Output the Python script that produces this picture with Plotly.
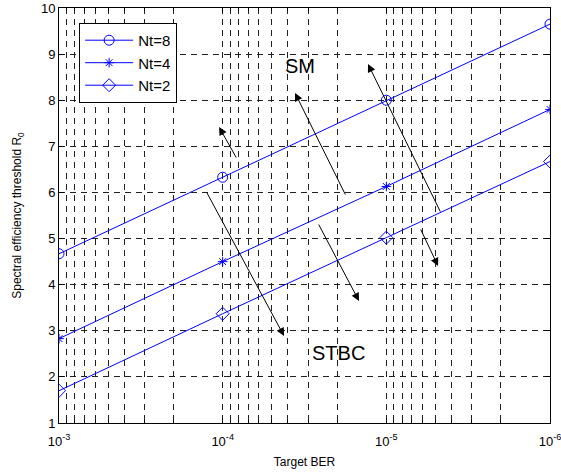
import plotly.graph_objects as go

ber = [1e-3, 1e-4, 1e-5, 1e-6]
nt8 = [4.67, 6.33, 8.00, 9.65]
nt4 = [2.83, 4.50, 6.13, 7.80]
nt2 = [1.70, 3.37, 5.02, 6.67]
series_names = ["Nt=8", "Nt=4", "Nt=2"]
series_symbols = ["circle-open", "asterisk-open", "diamond-open"]
series_sizes = [10, 8, 10]

xtick_vals = [1e-3, 1e-4, 1e-5, 1e-6]
xtick_text = ["10<sup>-3</sup>", "10<sup>-4</sup>", "10<sup>-5</sup>", "10<sup>-6</sup>"]
ytick_vals = [1, 2, 3, 4, 5, 6, 7, 8, 9, 10]

# arrows: (tail log10 x, tail y, head log10 x, head y)
arrows = [
    (-4.088, 6.725, -3.978, 7.419),
    (-3.898, 6.031, -4.375, 2.887),
    (-4.754, 5.923, -4.442, 8.157),
    (-4.582, 5.337, -4.833, 3.646),
    (-5.334, 5.554, -4.888, 8.786),
    (-5.206, 5.229, -5.316, 4.405),
]
labels = [("SM", -4.472, 8.742), ("STBC", -4.705, 2.518)]

FONT = "Arial, Liberation Sans, sans-serif"
BLUE = "#0000ff"
GRID = "#202020"

fig = go.Figure()
for name, vals, sym, sz in zip(series_names, [nt8, nt4, nt2], series_symbols, series_sizes):
    fig.add_trace(go.Scatter(
        x=ber, y=vals, mode="lines+markers", name=name,
        line=dict(color=BLUE, width=1),
        marker=dict(symbol=sym, size=sz, color=BLUE, line=dict(color=BLUE, width=1)),
    ))

minor_vals = [m * 10.0 ** e for e in (-6, -5, -4) for m in range(2, 10)]

fig.update_xaxes(
    type="log", range=[-3, -6], automargin=False,
    tickvals=xtick_vals, ticktext=xtick_text,
    ticks="inside", ticklen=5, tickcolor="black",
    ticklabelstandoff=6, ticklabeloverflow="allow",
    showgrid=True, gridcolor=GRID, griddash="6px,5px", gridwidth=1,
    minor=dict(tickvals=minor_vals, ticks="inside", ticklen=3, tickcolor="black",
               showgrid=True, gridcolor=GRID, griddash="6px,5px", gridwidth=1),
    showline=True, linecolor="black", linewidth=1, mirror="ticks",
    zeroline=False,
    title=dict(text="Target BER", font=dict(size=12, color="black", family=FONT), standoff=10),
    tickfont=dict(size=13, color="black", family=FONT),
)
fig.update_yaxes(
    range=[1, 10], tickvals=ytick_vals, automargin=False,
    ticks="inside", ticklen=5, tickcolor="black",
    showgrid=True, gridcolor=GRID, griddash="6px,5px", gridwidth=1,
    showline=True, linecolor="black", linewidth=1, mirror="ticks",
    zeroline=False,
    title=dict(text="Spectral efficiency threshold R<sub>0</sub>",
               font=dict(size=12, color="black", family=FONT), standoff=16),
    tickfont=dict(size=13, color="black", family=FONT),
)

for tx, ty, hx, hy in arrows:
    fig.add_annotation(
        x=hx, y=hy, ax=tx, ay=ty, xref="x", yref="y", axref="x", ayref="y",
        showarrow=True, arrowhead=2, arrowsize=1.6, arrowwidth=1, arrowcolor="black", text="",
    )
for txt, lx, ly in labels:
    fig.add_annotation(x=lx, y=ly, xref="x", yref="y", text=txt, showarrow=False,
                       font=dict(size=20, color="black", family=FONT))

fig.update_layout(
    width=561, height=476,
    margin=dict(l=59, r=11, t=8, b=53),
    paper_bgcolor="white", plot_bgcolor="white",
    font=dict(family=FONT, color="black"),
    legend=dict(x=0.041, y=0.964, xanchor="left", yanchor="top",
                bgcolor="white", bordercolor="black", borderwidth=1,
                font=dict(size=15, color="black", family=FONT),
                itemwidth=48, tracegroupgap=0),
    showlegend=True,
)

fig.write_html("out.html")
